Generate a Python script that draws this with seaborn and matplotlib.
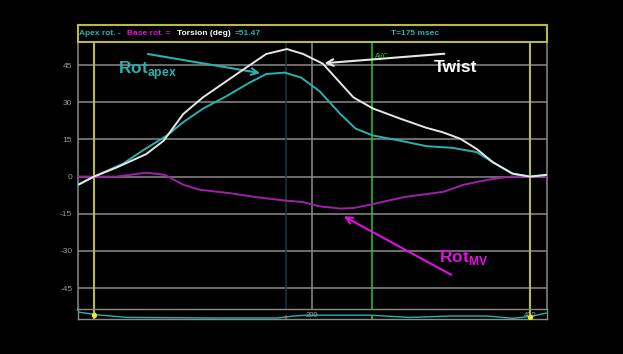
import pandas as pd
import numpy as np
import matplotlib.pyplot as plt
import seaborn as sns

# curves (time in msec, rotation in deg)
twist_t = [-14, 0, 21, 48, 64, 82, 100, 131, 158, 177, 192, 210, 238, 256, 281, 305, 320, 336, 351, 366, 384, 400, 415]
twist_v = [-3.2, 0, 3.7, 9.1, 14.5, 25.3, 32, 41.4, 49.5, 51.5, 49.5, 45.6, 32, 27.5, 23.4, 19.7, 17.9, 15.3, 11.2, 5.8, 1.2, 0, 0.7]

apex_t = [-14, 0, 27, 45, 67, 82, 100, 122, 143, 158, 175, 190, 207, 226, 240, 256, 281, 305, 329, 351, 366, 384, 400, 415]
apex_v = [-3.2, 0, 5.3, 10.6, 16.6, 22, 27.4, 32.6, 38, 41.4, 42, 40, 34.5, 25.3, 19.4, 16.6, 14.5, 12.3, 11.6, 9.9, 5.8, 1.2, 0, 0.7]

base_t = [-14, 21, 48, 65, 82, 97, 125, 149, 174, 192, 207, 226, 238, 256, 284, 321, 339, 361, 382, 400, 415]
base_v = [0, 0, 1.6, 0.7, -3.3, -5.3, -6.7, -8.3, -9.6, -10.3, -12, -12.9, -12.7, -11.1, -8.3, -6.1, -3.3, -1.3, 0, 0, 0]

# ecg strip under the plot (arbitrary units)
ecg_t = [-14.7, 1, 30, 113, 168, 183, 195, 253, 290, 327, 361, 384, 400, 415]
ecg_v = [8, 5, 1.7, 1, 1, 3.3, 4.3, 4.3, 1.7, 3.3, 3.3, 0.7, 2.7, 6.7]

yticks = [45, 30, 15, 0, -15, -30, -45]
t_cursor = 176
t_avc = 255
t_marks = [0, 400]

CYAN = "#2bb0b0"
WHITE = "#e6e6e6"
PURPLE = "#a020a8"
MAGENTA = "#e010e0"
YELLOW = "#b8b84a"
GREEN = "#22cc22"
GRAY = "#8a8a8a"

sns.set_style("dark", {"axes.facecolor": "black", "figure.facecolor": "black"})
plt.rcParams["font.family"] = ["Liberation Sans", "DejaVu Sans"]
plt.rcParams["mathtext.fontset"] = "custom"
plt.rcParams["mathtext.rm"] = "Liberation Sans"
plt.rcParams["mathtext.bf"] = "Liberation Sans:bold"

fig = plt.figure(figsize=(6.23, 3.54), dpi=100, facecolor="black")
ax = fig.add_axes([0.125, 0.124, 0.753, 0.757])
ax.set_facecolor("black")

for y in yticks:
    ax.axhline(y, color=GRAY, lw=1.1, zorder=1)
ax.axvline(200, color=GRAY, lw=1.1, zorder=1)
ax.axvline(t_cursor, color="#163a3a", lw=1.1, zorder=1)
ax.axvline(t_avc, color=GREEN, lw=1.1, zorder=1)
for t in t_marks:
    ax.axvline(t, color=YELLOW, lw=1.5, zorder=2)

base = pd.DataFrame({"t": base_t, "v": base_v})
apex = pd.DataFrame({"t": apex_t, "v": apex_v})
twist = pd.DataFrame({"t": twist_t, "v": twist_v})
sns.lineplot(data=base, x="t", y="v", color=PURPLE, lw=1.4, estimator=None, ax=ax, zorder=3)
sns.lineplot(data=apex, x="t", y="v", color=CYAN, lw=1.4, estimator=None, ax=ax, zorder=4)
sns.lineplot(data=twist, x="t", y="v", color=WHITE, lw=1.4, estimator=None, ax=ax, zorder=5)

ax.set_xlim(-14.7, 415.6)
ax.set_ylim(-53.9, 54.3)
ax.set_yticks(yticks)
ax.set_yticklabels([str(y) for y in yticks], color="#9a9a9a", fontsize=6)
ax.tick_params(axis="y", length=0, pad=4)
ax.set_xticks([])
ax.set_xlabel("")
ax.set_ylabel("")
ax.grid(False)
for side in ["left", "right", "bottom"]:
    ax.spines[side].set_color(GRAY)
    ax.spines[side].set_linewidth(1.1)
ax.spines["top"].set_visible(False)

# annotations
ax.annotate("", xy=(155, 41.6), xytext=(47, 49.7),
            arrowprops=dict(arrowstyle="->", color=CYAN, lw=1.5, mutation_scale=12))
ax.text(22, 41.6, r"Rot$_{\mathbf{apex}}$", color=CYAN, fontsize=12.5, fontweight="bold")
ax.annotate("", xy=(209, 45.7), xytext=(324, 49.7),
            arrowprops=dict(arrowstyle="->", color=WHITE, lw=1.5, mutation_scale=12))
ax.text(312, 42.3, "Twist", color="white", fontsize=12.5, fontweight="bold")
ax.annotate("", xy=(227, -15.5), xytext=(330, -40.2),
            arrowprops=dict(arrowstyle="->", color=MAGENTA, lw=1.5, mutation_scale=12))
ax.text(317, -34.6, r"Rot$_{\mathbf{MV}}$", color=MAGENTA, fontsize=12.5, fontweight="bold")
ax.text(258, 47.8, "AVC", color=GREEN, fontsize=5)

# header box
hb = fig.add_axes([0.125, 0.882, 0.753, 0.047])
hb.set_facecolor("black")
hb.set_xticks([])
hb.set_yticks([])
for s in hb.spines.values():
    s.set_color(YELLOW)
    s.set_linewidth(1.5)
hb.set_xlim(78, 547)
hb.set_ylim(0, 1)
hdr = dict(fontsize=6.0, va="center", fontweight="bold")
hb.text(79, 0.5, "Apex rot. -", color=CYAN, **hdr)
hb.text(127, 0.5, "Base rot. =", color=MAGENTA, **hdr)
hb.text(177, 0.5, "Torsion (deg)", color="white", **hdr)
hb.text(235, 0.5, "=51.47", color=CYAN, **hdr)
hb.text(391, 0.5, "T=175 msec", color=CYAN, **hdr)

# ecg strip
st = fig.add_axes([0.125, 0.098, 0.753, 0.028])
st.set_facecolor("black")
ecg = pd.DataFrame({"t": ecg_t, "v": ecg_v})
sns.lineplot(data=ecg, x="t", y="v", color=CYAN, lw=1.0, estimator=None, ax=st, zorder=3)
for t in t_marks:
    st.axvline(t, color=YELLOW, lw=1.5, zorder=2)
st.axvline(t_cursor, ymax=0.35, color="#cc2020", lw=1.5)
st.axvline(t_avc, ymax=0.35, color=GREEN, lw=1.2)
st.scatter(t_marks, [5, 2.7], color="#e8e830", s=8, zorder=4)
for t, lab in zip([0, 200, 400], ["0", "200", "400"]):
    st.text(t, 3.5, lab, color="#a0a0a0", fontsize=5.5, ha="center", va="center")
st.set_xlim(-14.7, 415.6)
st.set_ylim(-0.5, 11)
st.set_xticks([])
st.set_yticks([])
st.set_xlabel("")
st.set_ylabel("")
for s in st.spines.values():
    s.set_color(GRAY)
    s.set_linewidth(1.0)

fig.savefig("out.png", dpi=100, facecolor="black")
